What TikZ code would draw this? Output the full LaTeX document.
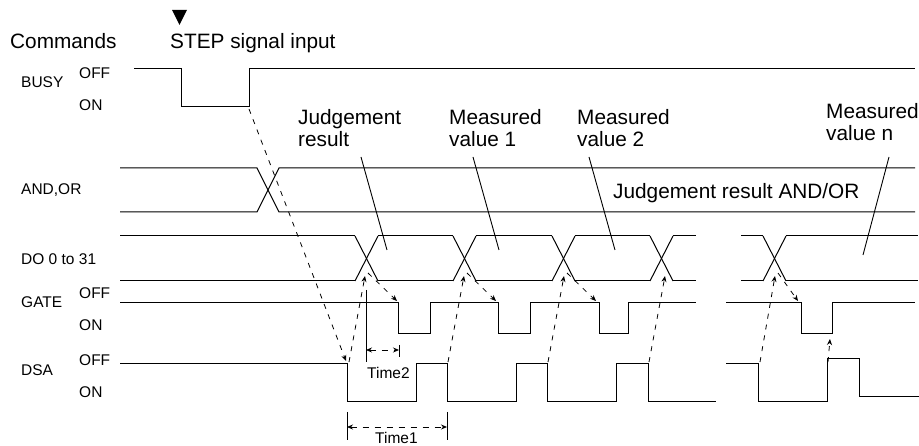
\documentclass[tikz,border=0pt]{standalone}
\usepackage{fontspec}
\setmainfont{Liberation Sans}
\usetikzlibrary{arrows.meta}

\begin{document}
\begin{tikzpicture}[
  x=1pt, y=-1pt,
  big/.style={font=\fontsize{20.8}{22.4}\selectfont, align=left, inner sep=0pt, anchor=base west},
  small/.style={font=\fontsize{15.5}{18}\selectfont, inner sep=0pt, anchor=base west},
  wave/.style={line width=1pt},
  cause/.style={-{Stealth[length=6pt,width=5pt]}, line width=0.8pt, dash pattern=on 5pt off 6pt},
  span/.style={{Stealth[length=6pt,width=5pt]}-{Stealth[length=6pt,width=5pt]}, line width=0.8pt, dash pattern=on 6pt off 6pt},
  lead/.style={line width=0.9pt},
  tick/.style={line width=1pt}
]
\useasboundingbox (0,0) rectangle (919,446);

% =========================================================
% HEADINGS AND SIGNAL NAMES
% =========================================================

\node[big] (cmdLbl) at (10,48.5) {Commands};
\node[big] (stepLbl) at (170,48.5) {STEP signal input};
\fill (172,10) -- (187,10) -- (179.5,25) -- cycle;

\node[small] (busyLbl) at (21,87.5) {BUSY};
\node[small] (busyOff) at (79,78.5) {OFF};
\node[small] (busyOn) at (79,111) {ON};

\node[small] (andorLbl) at (21,195) {AND,OR};
\node[small] (doLbl) at (21,264.3) {DO 0 to 31};

\node[small] (gateLbl) at (21,307.3) {GATE};
\node[small] (gateOff) at (79,298.3) {OFF};
\node[small] (gateOn) at (79,330.7) {ON};

\node[small] (dsaLbl) at (21,376) {DSA};
\node[small] (dsaOff) at (79,365.7) {OFF};
\node[small] (dsaOn) at (79,397.7) {ON};

% =========================================================
% WAVEFORMS
% =========================================================

% BUSY
\draw[wave] (134,69) -- (181,69) -- (181,107) -- (249,107) -- (249,69) -- (915,69);

% AND,OR
\draw[wave] (120,168) -- (257,168) -- (279,212) -- (915,212);
\draw[wave] (120,212) -- (257,212) -- (279,168) -- (915,168);

% DO 0 to 31
\foreach \a/\b in {120/355, 378/453, 476/552, 575/650, 673/696, 741/763, 786/918}{
  \draw[wave] (\a,236) -- (\b,236);
  \draw[wave] (\a,281) -- (\b,281);
}
\foreach \c in {355,453,552,650,763}{
  \draw[wave] (\c,236) -- (\c+23,281);
  \draw[wave] (\c,281) -- (\c+23,236);
}

% GATE
\draw[wave] (120,303) -- (398,303) -- (398,334) -- (430,334) -- (430,303)
  -- (498,303) -- (498,334) -- (530,334) -- (530,303)
  -- (599,303) -- (599,334) -- (628,334) -- (628,303) -- (696,303);
\draw[wave] (726,303) -- (801,303) -- (801,334) -- (832,334) -- (832,303) -- (915,303);

% DSA
\draw[wave] (120,364) -- (347,364) -- (347,402) -- (416,402) -- (416,364)
  -- (447,364) -- (447,402) -- (516,402) -- (516,364)
  -- (547,364) -- (547,402) -- (616,402) -- (616,364)
  -- (648,364) -- (648,402) -- (716,402);
\draw[wave] (726,364) -- (758,364) -- (758,402) -- (827,402) -- (827,359)
  -- (859,359) -- (859,397) -- (919,397);

% =========================================================
% CAUSE ARROWS
% =========================================================

\coordinate (busyRise) at (249,109);
\coordinate (dsaHit) at (346,361);
\draw[cause] (busyRise) -- (dsaHit);

\foreach \n/\f/\c/\g in {1/349/365/397, 2/448/464/496, 3/548/564/596, 5/760/775/798}{
  \coordinate (dsaF\n) at (\f,362);
  \coordinate (doX\n) at (\c,276);
  \coordinate (doO\n) at (\c+3,273);
  \coordinate (gateF\n) at (\g,301);
  \draw[cause] (dsaF\n) -- (doX\n);
  \draw[cause] (doO\n) -- (gateF\n);
}

\coordinate (dsaF4) at (649,362);
\coordinate (doX4) at (665,276);
\draw[cause] (dsaF4) -- (doX4);

\coordinate (dsaUp) at (828,362);
\coordinate (gateUp) at (830,339);
\draw[cause] (dsaUp) -- (gateUp);

% =========================================================
% TIMES
% =========================================================

% Time2
\coordinate (t2Top) at (366,290);
\coordinate (t2Bot) at (366,362);
\draw[tick] (t2Top) -- (t2Bot);
\draw[tick] (399,345) -- (399,357);
\coordinate (t2L) at (366,350);
\coordinate (t2R) at (399,350);
\draw[span] (t2L) -- (t2R);
\node[small] (time2Lbl) at (367,379) {Time2};

% Time1
\draw[tick] (347,412) -- (347,440);
\draw[tick] (447,412) -- (447,440);
\coordinate (t1L) at (347,427);
\coordinate (t1R) at (447,427);
\draw[span] (t1L) -- (t1R);
\node[small] (time1Lbl) at (375,443.5) {Time1};

% =========================================================
% DATA LABELS
% =========================================================

% base anchor sits on the last line
\node[big] (judgeLbl) at (298,146.7) {Judgement\\result};
\node[big] (meas1Lbl) at (449,146.7) {Measured\\value 1};
\node[big] (meas2Lbl) at (577,146.7) {Measured\\value 2};
\node[big] (measNLbl) at (826,140.7) {Measured\\value n};
\node[big] (andorTxt) at (613,198.5) {Judgement result AND/OR};

\foreach \s/\t/\e/\b in {judge/361/387/250, meas1/473/499/250, meas2/589/615/250, measN/889/863/255}{
  \coordinate (\s Top) at (\t,157);
  \coordinate (\s Tip) at (\e,\b);
  \draw[lead] (\s Top) -- (\s Tip);
}

\end{tikzpicture}
\end{document}
